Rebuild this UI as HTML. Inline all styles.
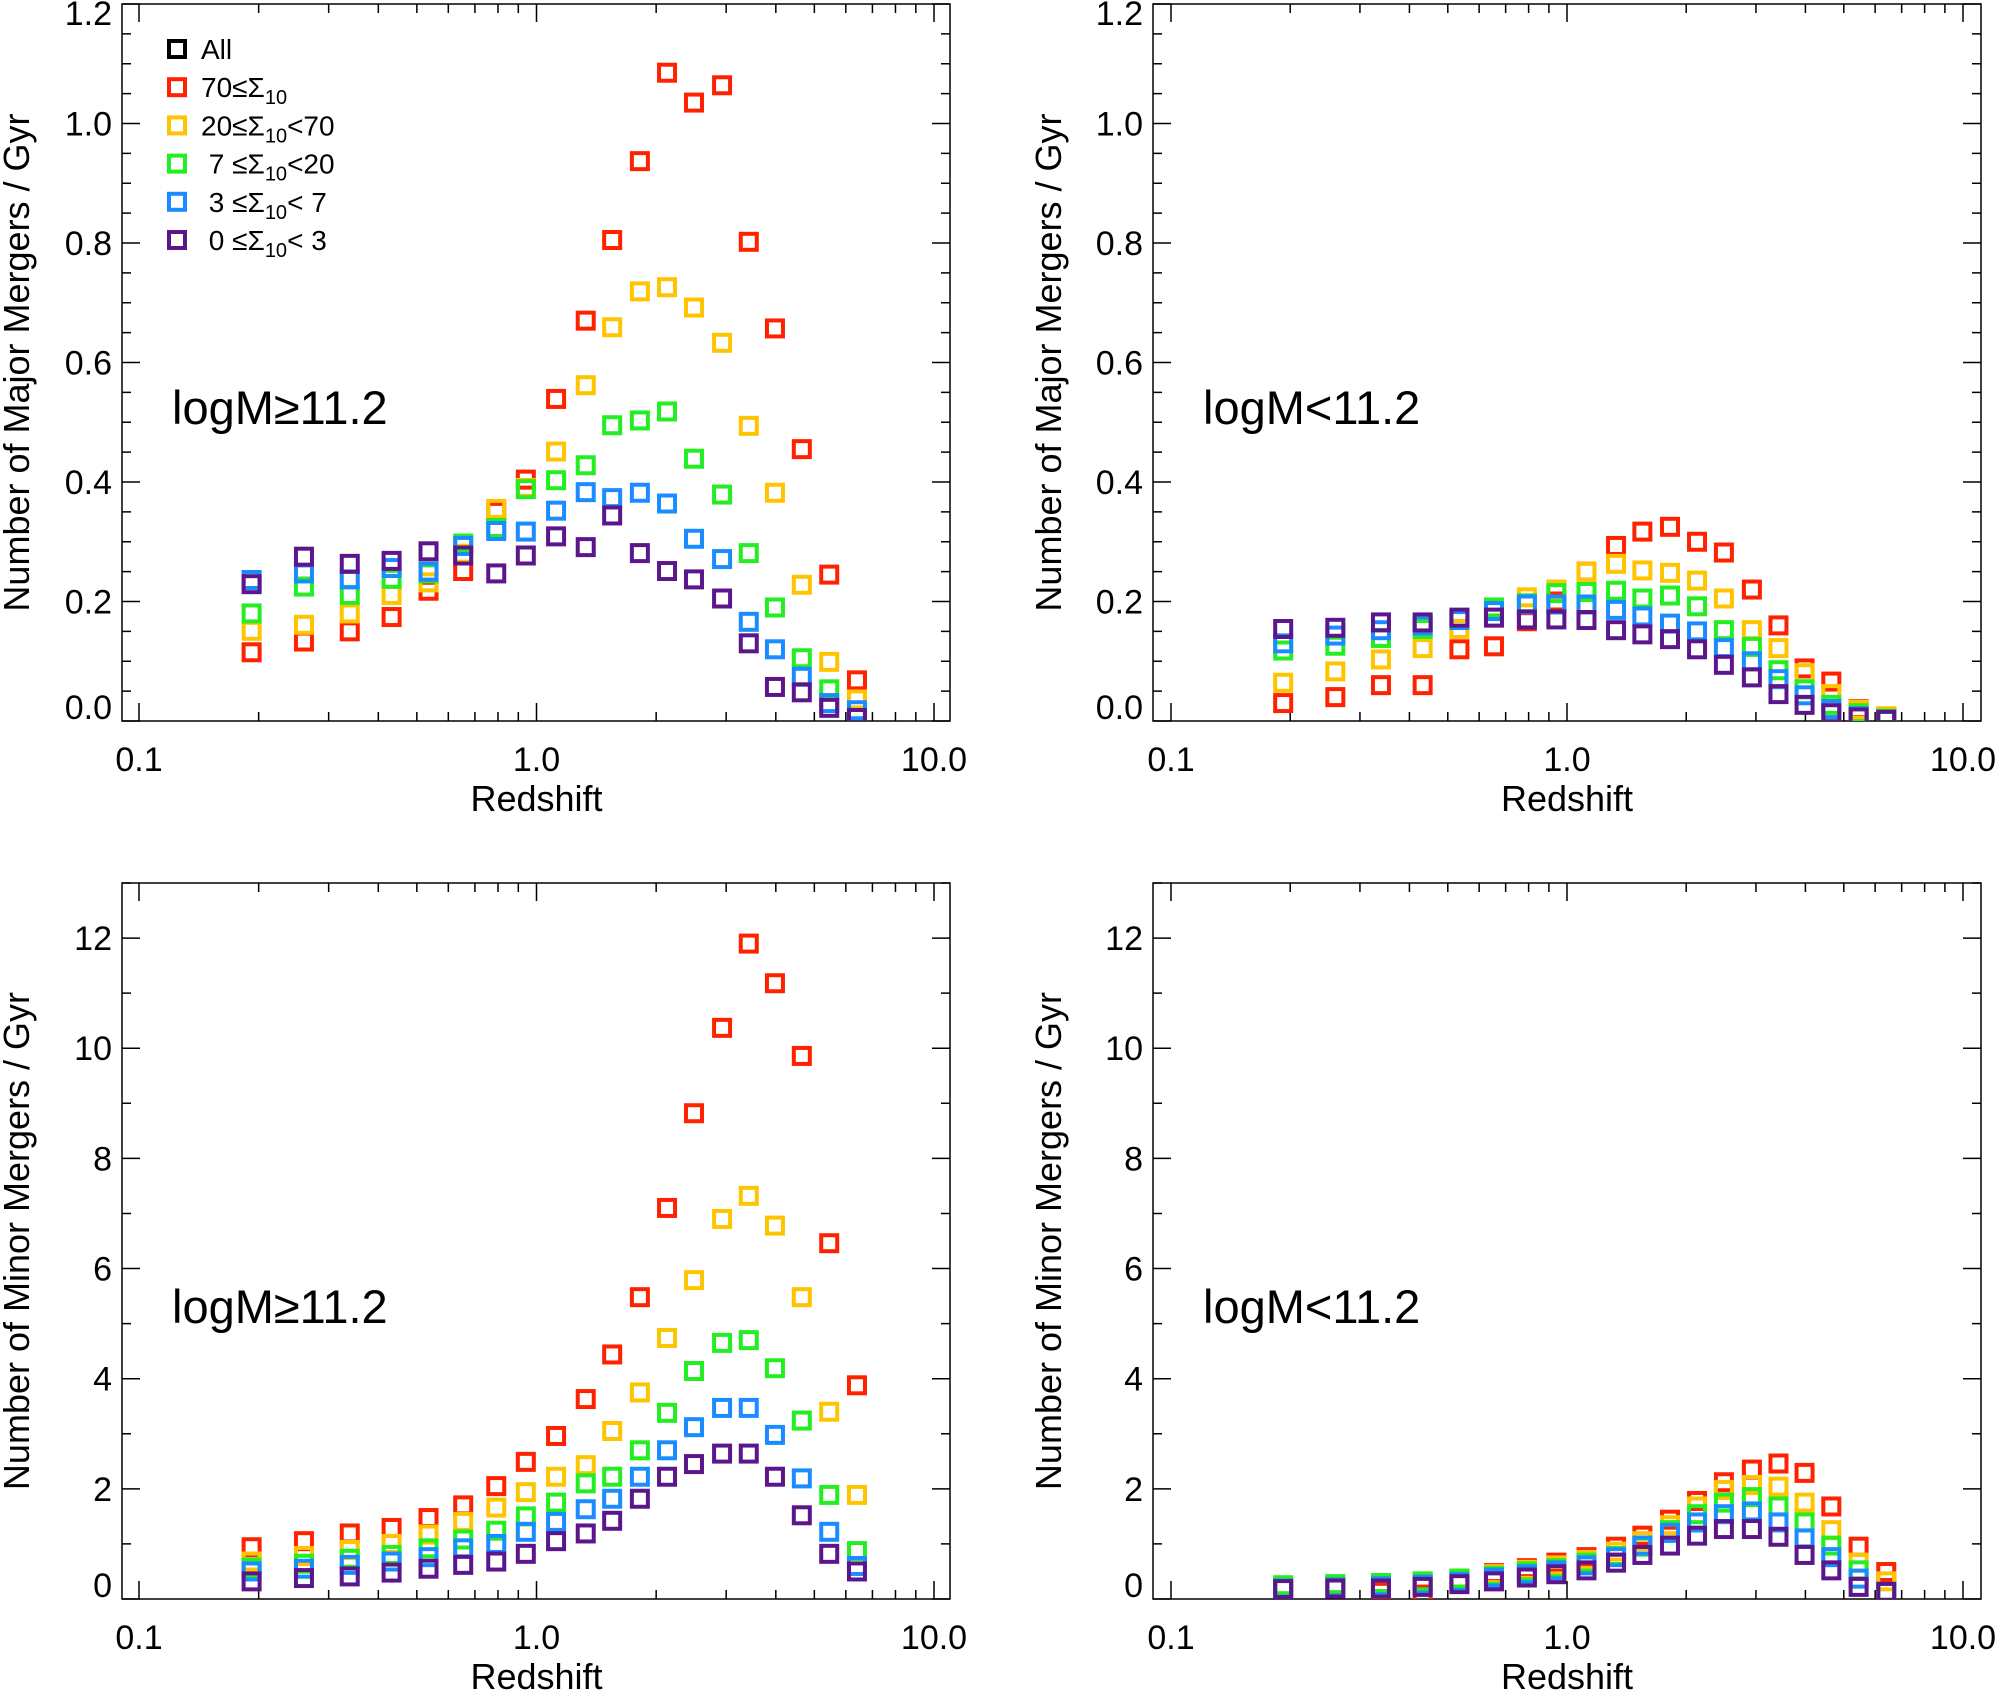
<!DOCTYPE html>
<html><head><meta charset="utf-8"><style>
html,body{margin:0;padding:0;background:#fff;}
svg{display:block;font-family:"Liberation Sans",Arial,sans-serif;}
</style></head><body>
<svg id="chart" width="2000" height="1690" viewBox="0 0 2000 1690" xmlns="http://www.w3.org/2000/svg"></svg>
<script>
const redshift = [0.192,0.26,0.339,0.432,0.535,0.654,0.792,0.94,1.12,1.33,1.55,1.82,2.13,2.49,2.93,3.42,3.98,4.65,5.45,6.4];
const seriesNames = ["70≤Σ10","20≤Σ10<70","7≤Σ10<20","3≤Σ10<7","0≤Σ10<3"];
const seriesColors = ["#ff2200","#ffc400","#22ee22","#1a8cff","#5c168c"];
const xTickLabels = ["0.1","1.0","10.0"];
const majorTopTicks = ["0.0","0.2","0.4","0.6","0.8","1.0","1.2"];
const minorBottomTicks = ["0","2","4","6","8","10","12"];

const majorHighRed = [0.115,0.133,0.15,0.174,0.218,0.251,0.35,0.404,0.539,0.67,0.805,0.937,1.085,1.035,1.064,0.802,0.657,0.455,0.245,0.068];
const majorHighYellow = [0.151,0.161,0.18,0.211,0.232,0.28,0.355,0.39,0.451,0.562,0.659,0.719,0.726,0.692,0.633,0.494,0.382,0.228,0.099,0.036];
const majorHighGreen = [0.18,0.225,0.211,0.238,0.247,0.297,0.323,0.388,0.403,0.428,0.495,0.503,0.518,0.439,0.379,0.281,0.19,0.105,0.053,0.005];
const majorHighBlue = [0.236,0.247,0.237,0.256,0.25,0.293,0.318,0.317,0.352,0.383,0.373,0.382,0.364,0.305,0.271,0.166,0.12,0.074,0.03,0.018];
const majorHighPurple = [0.229,0.275,0.263,0.268,0.284,0.277,0.247,0.277,0.309,0.291,0.344,0.281,0.251,0.237,0.205,0.13,0.057,0.048,0.022,0.005];

const majorLowRed = [0.03,0.04,0.06,0.06,0.12,0.125,0.167,0.2,0.25,0.293,0.317,0.325,0.30,0.282,0.22,0.16,0.088,0.066,0.02,0.006];
const majorLowYellow = [0.064,0.083,0.103,0.122,0.154,0.186,0.207,0.22,0.25,0.263,0.252,0.248,0.235,0.205,0.152,0.122,0.08,0.045,0.019,0.008];
const majorLowGreen = [0.118,0.126,0.139,0.154,0.17,0.19,0.197,0.214,0.216,0.218,0.205,0.21,0.192,0.152,0.124,0.085,0.053,0.027,0.013,0.004];
const majorLowBlue = [0.13,0.143,0.152,0.16,0.169,0.184,0.195,0.195,0.195,0.186,0.175,0.163,0.15,0.122,0.1,0.07,0.043,0.02,0.008,0.002];
const majorLowPurple = [0.154,0.156,0.165,0.165,0.173,0.173,0.17,0.17,0.169,0.152,0.145,0.137,0.12,0.094,0.073,0.045,0.027,0.013,0.006,0.002];

const minorHighRed = [0.94,1.05,1.19,1.29,1.47,1.7,2.05,2.49,2.96,3.63,4.44,5.48,7.1,8.82,10.37,11.9,11.18,9.86,6.46,3.88];
const minorHighYellow = [0.68,0.78,0.89,1.0,1.17,1.4,1.66,1.94,2.22,2.43,3.05,3.75,4.74,5.79,6.9,7.32,6.78,5.48,3.4,1.89];
const minorHighGreen = [0.57,0.64,0.73,0.8,0.92,1.08,1.24,1.5,1.75,2.1,2.22,2.7,3.38,4.14,4.65,4.7,4.19,3.24,1.89,0.87];
const minorHighBlue = [0.5,0.55,0.62,0.68,0.76,0.92,1.0,1.22,1.4,1.63,1.82,2.22,2.7,3.12,3.47,3.47,2.98,2.19,1.22,0.6];
const minorHighPurple = [0.32,0.38,0.41,0.48,0.55,0.62,0.68,0.82,1.05,1.19,1.42,1.82,2.22,2.45,2.64,2.64,2.22,1.52,0.82,0.5];

const minorLowRed = [0.22,0.22,0.13,0.08,0.37,0.47,0.56,0.66,0.76,0.95,1.15,1.44,1.78,2.12,2.35,2.46,2.29,1.68,0.95,0.49];
const minorLowYellow = [0.22,0.25,0.27,0.31,0.37,0.45,0.53,0.61,0.71,0.86,1.05,1.34,1.68,1.98,2.07,2.04,1.75,1.25,0.66,0.32];
const minorLowGreen = [0.25,0.27,0.29,0.32,0.37,0.42,0.5,0.56,0.66,0.78,0.95,1.25,1.54,1.75,1.85,1.68,1.39,0.97,0.52,0.13];
const minorLowBlue = [0.19,0.21,0.23,0.26,0.31,0.39,0.45,0.52,0.61,0.76,0.97,1.2,1.39,1.54,1.59,1.39,1.1,0.76,0.37,0.13];
const minorLowPurple = [0.18,0.19,0.19,0.22,0.27,0.32,0.39,0.45,0.52,0.66,0.8,0.97,1.15,1.27,1.27,1.13,0.8,0.52,0.22,0.13];

const NS="http://www.w3.org/2000/svg";
const svg=document.getElementById('chart');
function mk(tag,attrs,parent){const e=document.createElementNS(NS,tag);for(const k in attrs)e.setAttribute(k,attrs[k]);(parent||svg).appendChild(e);return e;}

const panels=[
 {id:'major-high',l:122,r:950,t:4,b:721,ymax:1.2,x01:139,dec:397.5,ticks:majorTopTicks,minorStep:0.05,ytitle:'Number of Major Mergers / Gyr',label:'logM≥11.2',series:[majorHighRed,majorHighYellow,majorHighGreen,majorHighBlue,majorHighPurple],legend:true,tx:16,lx:172,ly:424,xlab:771,xtitle:811},
 {id:'major-low',l:1153,r:1981,t:4,b:721,ymax:1.2,x01:1171,dec:396,ticks:majorTopTicks,minorStep:0.05,ytitle:'Number of Major Mergers / Gyr',label:'logM<11.2',series:[majorLowRed,majorLowYellow,majorLowGreen,majorLowBlue,majorLowPurple],tx:1048,lx:1203,ly:424,xlab:771,xtitle:811},
 {id:'minor-high',l:122,r:950,t:883,b:1599,ymax:13.0,x01:139,dec:397.5,ticks:minorBottomTicks,minorStep:1,ytitle:'Number of Minor Mergers / Gyr',label:'logM≥11.2',series:[minorHighRed,minorHighYellow,minorHighGreen,minorHighBlue,minorHighPurple],tx:16,lx:172,ly:1323,xlab:1649,xtitle:1689},
 {id:'minor-low',l:1153,r:1981,t:883,b:1599,ymax:13.0,x01:1171,dec:396,ticks:minorBottomTicks,minorStep:1,ytitle:'Number of Minor Mergers / Gyr',label:'logM<11.2',series:[minorLowRed,minorLowYellow,minorLowGreen,minorLowBlue,minorLowPurple],tx:1048,lx:1203,ly:1323,xlab:1649,xtitle:1689}
];

panels.forEach(p=>{
 const g=mk('g',{});
 
 
 const xs=z=>p.x01+Math.log10(z/0.1)*p.dec;
 const ys=v=>p.b-(v/p.ymax)*(p.b-p.t);
 const frame=mk('rect',{x:p.l,y:p.t,width:p.r-p.l,height:p.b-p.t,fill:'none',stroke:'#000','stroke-width':1.5},g);
 
 
 let path='';
 for(let d=-1;d<=0;d++){for(let m=1;m<=9;m++){const z=m*Math.pow(10,d);const x=xs(z);const L=m===1?18:9;path+=`M${x},${p.b}v${-L}M${x},${p.t}v${L}`;}}
 path+=`M${xs(10)},${p.b}v-18M${xs(10)},${p.t}v18`;
 const majStep=Number(p.ticks[1]);
 for(let v=0;v<=p.ymax+1e-9;v+=p.minorStep){const y=ys(v);const isMaj=Math.abs(v/majStep-Math.round(v/majStep))<1e-6;const L=isMaj?18:9;path+=`M${p.l},${y}h${L}M${p.r},${y}h${-L}`;}
 const tk=mk('path',{d:path,stroke:'#000','stroke-width':1.5,fill:'none'},g);
 
 
 p.ticks.forEach((t,i)=>{const v=Number(t);let y=ys(v)+12;if(i===0)y=ys(v)-2;if(i===p.ticks.length-1&&p.ymax===Number(t))y=ys(v)+21;
  const e=mk('text',{x:p.l-10,y:y,'font-size':34,'text-anchor':'end'},g);e.textContent=t;
  
  });
 xTickLabels.forEach(t=>{const e=mk('text',{x:xs(Number(t)),y:p.xlab,'font-size':34,'text-anchor':'middle'},g);e.textContent=t;
  
  });
 const xt=mk('text',{x:xs(1),y:p.xtitle,'font-size':36,'text-anchor':'middle'},g);xt.textContent='Redshift';
 
 
 const cy=(p.t+p.b)/2;
 const yt=mk('text',{x:p.tx,y:cy,'font-size':36,'text-anchor':'middle',transform:`rotate(-90 ${p.tx} ${cy})`,dy:13},g);yt.textContent=p.ytitle;
 
 
 const lb=mk('text',{x:p.lx,y:p.ly,'font-size':47},g);lb.textContent=p.label;
 
 
 const clipId='clip-'+p.id;
 const cp=mk('clipPath',{id:clipId},g);mk('rect',{x:p.l,y:p.t,width:p.r-p.l,height:p.b-p.t},cp);
 p.series.forEach((vals,si)=>{
  const sg=mk('g',{'clip-path':`url(#${clipId})`},g);
  
  
  vals.forEach((v,i)=>{const x=xs(redshift[i]),y=ys(v);
   const r=mk('rect',{x:x-8,y:y-8,width:16,height:16,fill:'none',stroke:seriesColors[si],'stroke-width':4},sg);
   
   });
 });
 if(p.legend){
  const lg=mk('g',{},g);
  
  
  const rows=[['All','','', '#000'],['70≤Σ','10','',seriesColors[0]],['20≤Σ','10','<70',seriesColors[1]],[' 7 ≤Σ','10','<20',seriesColors[2]],[' 3 ≤Σ','10','< 7',seriesColors[3]],[' 0 ≤Σ','10','< 3',seriesColors[4]]];
  rows.forEach((rw,i)=>{const cyy=49+i*38.2;
   const s=mk('rect',{x:169,y:cyy-8,width:16,height:16,fill:'none',stroke:rw[3],'stroke-width':4},lg);
   
   
   const t=mk('text',{x:201,y:cyy+10,'font-size':28},lg);
   
   
   t.setAttribute('style','white-space:pre');
   const a=mk('tspan',{},t);a.textContent=rw[0];
   if(rw[1]){const b=mk('tspan',{'font-size':20,dy:7},t);b.textContent=rw[1];
    if(rw[2]){const c=mk('tspan',{dy:-7},t);c.textContent=rw[2];}}
  });
 }
});
</script>
</body></html>
